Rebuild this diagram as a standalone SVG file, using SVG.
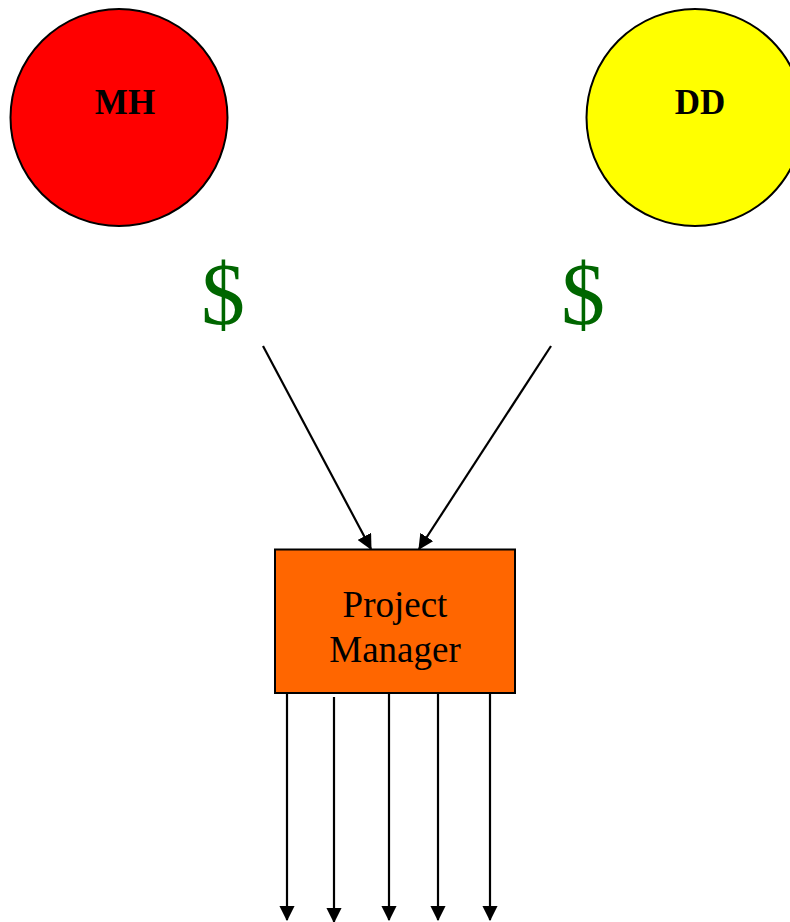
<svg xmlns="http://www.w3.org/2000/svg" width="790" height="922" viewBox="0 0 790 922">
<defs>
<style>
.node{stroke:#000;stroke-width:2}
.lbl{font-family:"Liberation Serif","Times New Roman",serif;fill:#000;text-anchor:middle}
.bold{font-weight:bold;font-size:35px}
.dollar{font-family:"Liberation Serif","Times New Roman",serif;fill:#006600;text-anchor:middle;font-size:88px}
.conn{stroke:#000;stroke-width:2.2;fill:none;marker-end:url(#ah)}
</style>
<marker id="ah" markerWidth="7" markerHeight="7" refX="6.5" refY="3.5" orient="auto" markerUnits="strokeWidth" viewBox="0 0 7 7">
<path d="M0,0 L7,3.5 L0,7 Z" fill="#000"/>
</marker>
</defs>
<rect width="790" height="922" fill="#fff"/>
<g id="MH">
<circle class="node" cx="119" cy="117.5" r="108.5" fill="#FF0000"/>
<text class="lbl bold" x="125" y="114">MH</text>
</g>
<g id="DD">
<circle class="node" cx="695" cy="117.5" r="108.5" fill="#FFFF00"/>
<text class="lbl bold" x="700" y="114">DD</text>
</g>
<g id="dollar-left">
<text class="dollar" x="223" y="324">$</text>
</g>
<g id="dollar-right">
<text class="dollar" x="583" y="324">$</text>
</g>
<g id="project-manager">
<rect class="node" x="275" y="549.5" width="240" height="143.5" fill="#FF6600"/>
<text class="lbl" x="395" y="617" font-size="37">Project</text>
<text class="lbl" x="395" y="662" font-size="37">Manager</text>
</g>
<g id="connectors">
<line class="conn" x1="263" y1="346" x2="371" y2="549"/>
<line class="conn" x1="551" y1="346" x2="419" y2="549"/>
<line class="conn" x1="287" y1="693" x2="287" y2="920"/>
<line class="conn" x1="334" y1="697" x2="334" y2="922"/>
<line class="conn" x1="389" y1="693" x2="389" y2="920"/>
<line class="conn" x1="438" y1="693" x2="438" y2="920"/>
<line class="conn" x1="490" y1="693" x2="490" y2="920"/>
</g>
</svg>
